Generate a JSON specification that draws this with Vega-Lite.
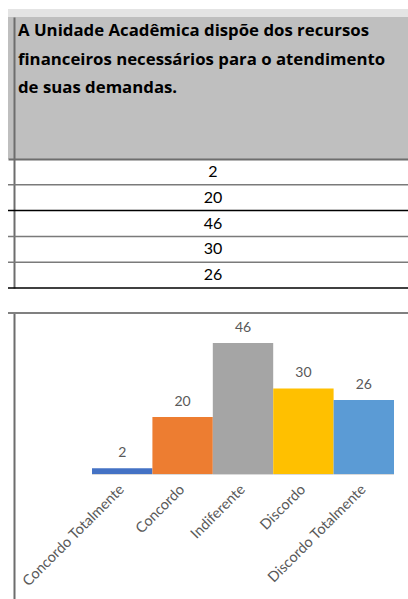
{
  "$schema": "https://vega.github.io/schema/vega-lite/v6.json",
  "padding": {"left": 7, "top": 9, "right": 0, "bottom": 0},
  "autosize": {"type": "pad"},
  "background": "white",
  "spacing": 0,
  "bounds": "flush",
  "datasets": {
    "respostas": [
      {"categoria": "Concordo Totalmente", "valor": 2},
      {"categoria": "Concordo", "valor": 20},
      {"categoria": "Indiferente", "valor": 46},
      {"categoria": "Discordo", "valor": 30},
      {"categoria": "Discordo Totalmente", "valor": 26}
    ],
    "enunciado": [
      {"linha": 1, "texto": "A Unidade Acadêmica dispõe dos recursos"},
      {"linha": 2, "texto": "financeiros necessários para o atendimento"},
      {"linha": 3, "texto": "de suas demandas."}
    ]
  },
  "config": {"view": {"stroke": null}, "font": "Lato", "axis": {"grid": false}},
  "vconcat": [
    {
      "width": 402,
      "height": 8,
      "view": {"fill": "#e4e4e4", "stroke": null},
      "data": {"values": []},
      "mark": "rule",
      "encoding": {}
    },
    {
      "width": 402,
      "height": 142,
      "view": {"fill": "#bfbfbf", "stroke": null},
      "data": {"name": "enunciado"},
      "mark": {"type": "text", "align": "left", "baseline": "middle", "font": "Open Sans", "fontWeight": "bold", "fontSize": 16.8, "color": "#000000", "dx": 10},
      "encoding": {
        "x": {"datum": 0, "type": "quantitative", "scale": {"domain": [0, 1]}, "axis": {"domain": true, "domainColor": "#6d6d6d", "domainWidth": 2, "labels": false, "ticks": false, "title": null}},
        "y": {"field": "linha", "type": "ordinal", "scale": {"domain": [1, 2, 3, 4, 5], "paddingInner": 0, "paddingOuter": 0}, "axis": {"domain": true, "domainColor": "#6d6d6d", "domainWidth": 2, "labels": false, "ticks": false, "title": null, "offset": -6}},
        "text": {"field": "texto"}
      }
    },
    {
      "width": 402,
      "height": 129,
      "data": {"name": "respostas"},
      "layer": [
        {
          "mark": {"type": "rule", "strokeWidth": 1.5},
          "encoding": {
            "y": {"field": "categoria", "type": "nominal", "sort": null, "bandPosition": 1, "scale": {"paddingInner": 0, "paddingOuter": 0}, "axis": {"domain": true, "domainColor": "#6d6d6d", "domainWidth": 2, "labels": false, "ticks": false, "title": null, "offset": -6}},
            "color": {"condition": {"test": "datum.categoria === 'Concordo' || datum.categoria === 'Discordo Totalmente'", "value": "#000000"}, "value": "#7a7a7a"}
          }
        },
        {
          "mark": {"type": "text", "fontSize": 16, "color": "#000000", "dx": 4},
          "encoding": {
            "y": {"field": "categoria", "type": "nominal", "sort": null},
            "text": {"field": "valor", "type": "quantitative"}
          }
        }
      ]
    },
    {
      "width": 402,
      "height": 25,
      "data": {"values": []},
      "mark": "rule",
      "encoding": {}
    },
    {
      "width": 402,
      "height": 290,
      "data": {"name": "respostas"},
      "layer": [
        {
          "mark": {"type": "rule", "color": "#808080", "strokeWidth": 1.5},
          "encoding": {
            "y": {"datum": 56.5, "type": "quantitative", "scale": {"domain": [-45.3, 56.5], "nice": false, "zero": false}, "axis": {"domain": true, "domainColor": "#6d6d6d", "domainWidth": 2, "labels": false, "ticks": false, "title": null, "offset": -6}}
          }
        },
        {
          "mark": {"type": "bar", "color": "#d9d9d9"},
          "encoding": {
            "x": {"field": "categoria", "type": "nominal", "sort": null},
            "y": {"datum": 0, "type": "quantitative"},
            "y2": {"datum": -0.4}
          }
        },
        {
          "mark": {"type": "bar"},
          "encoding": {
            "x": {"field": "categoria", "type": "nominal", "sort": null, "scale": {"paddingInner": 0, "paddingOuter": 0.828, "align": 0.84}, "axis": {"offset": -129, "labelAngle": -45, "labelColor": "#595959", "labelFontSize": 14.5, "ticks": false, "domain": false, "labelPadding": 13, "title": null}},
            "y": {"field": "valor", "type": "quantitative"},
            "color": {"field": "categoria", "type": "nominal", "sort": null, "scale": {"domain": ["Concordo Totalmente", "Concordo", "Indiferente", "Discordo", "Discordo Totalmente"], "range": ["#4472c4", "#ed7d31", "#a5a5a5", "#ffc000", "#5b9bd5"]}, "legend": null}
          }
        },
        {
          "mark": {"type": "text", "baseline": "bottom", "dy": -8, "fontSize": 14, "color": "#595959"},
          "encoding": {
            "x": {"field": "categoria", "type": "nominal", "sort": null},
            "y": {"field": "valor", "type": "quantitative"},
            "text": {"field": "valor", "type": "quantitative"}
          }
        }
      ]
    }
  ]
}
